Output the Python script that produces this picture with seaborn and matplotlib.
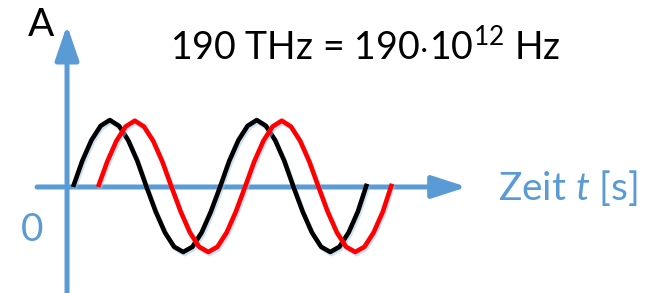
import numpy as np
import pandas as pd
import matplotlib
matplotlib.use('Agg')
import matplotlib.pyplot as plt
import matplotlib.patheffects as pe
import seaborn as sns

# Zeit in Einheiten der Periode T (T = 1/190 THz), Amplitude normiert
black_t = [0.0, 0.0625, 0.125, 0.1875, 0.25, 0.3125, 0.375, 0.4375, 0.5, 0.5625, 0.625,
           0.6875, 0.75, 0.8125, 0.875, 0.9375, 1.0, 1.0625, 1.125, 1.1875, 1.25, 1.3125,
           1.375, 1.4375, 1.5, 1.5625, 1.625, 1.6875, 1.75, 1.8125, 1.875, 1.9375, 2.0]
black_a = [0.0, 0.4, 0.72, 0.94, 1.03, 0.94, 0.72, 0.4, 0.0, -0.38, -0.7, -0.92, -1.0,
           -0.92, -0.7, -0.38, 0.0, 0.4, 0.72, 0.94, 1.03, 0.94, 0.72, 0.4, 0.0, -0.38,
           -0.7, -0.92, -1.0, -0.92, -0.7, -0.38, 0.05]

red_t = [0.17, 0.2325, 0.295, 0.3575, 0.42, 0.4825, 0.545, 0.6075, 0.67, 0.7325, 0.795,
         0.8575, 0.92, 0.9825, 1.045, 1.1075, 1.17, 1.2325, 1.295, 1.3575, 1.42, 1.4825,
         1.545, 1.6075, 1.67, 1.7325, 1.795, 1.8575, 1.92, 1.9825, 2.045, 2.1075, 2.17]
red_a = [0.0, 0.39, 0.71, 0.93, 1.02, 0.93, 0.71, 0.39, 0.0, -0.38, -0.7, -0.92, -1.0,
         -0.92, -0.7, -0.38, 0.0, 0.39, 0.71, 0.93, 1.02, 0.93, 0.71, 0.39, 0.0, -0.38,
         -0.7, -0.92, -1.0, -0.92, -0.7, -0.38, 0.05]

title_txt = '190 THz = 190$\\cdot$10$^{12}$ Hz'
x_label = 'Zeit $\\it{t}$ [s]'
y_label = 'A'
zero_label = '0'

blue = '#5B9BD5'

sns.set_style('white')
plt.rcParams['font.family'] = ['Lato', 'DejaVu Sans']
plt.rcParams['mathtext.fontset'] = 'custom'
plt.rcParams['mathtext.rm'] = 'Lato'
plt.rcParams['mathtext.it'] = 'Lato:italic'

fig = plt.figure(figsize=(6.52, 2.93), dpi=100)
ax = fig.add_axes([0, 0, 1, 1])
ax.set_xlim(-0.497, 3.939)
ax.set_ylim(-1.631, 2.877)
ax.axis('off')

# Achsen als Pfeile
ax.annotate('', xy=(2.68, 0), xytext=(-0.245, 0),
            arrowprops=dict(arrowstyle='-|>,head_length=1.05,head_width=0.34',
                            mutation_scale=20, lw=3.6, color=blue,
                            shrinkA=0, shrinkB=0))
ax.annotate('', xy=(-0.041, 2.49), xytext=(-0.041, -1.8),
            arrowprops=dict(arrowstyle='-|>,head_length=1.05,head_width=0.36',
                            mutation_scale=20, lw=3.6, color=blue,
                            shrinkA=0, shrinkB=0))

df = pd.concat([
    pd.DataFrame({'t': black_t, 'a': black_a, 'welle': 'ref'}),
    pd.DataFrame({'t': red_t, 'a': red_a, 'welle': 'shift'}),
])
sns.lineplot(data=df, x='t', y='a', hue='welle', palette={'ref': 'black', 'shift': '#FF0000'},
             sort=False, lw=3.3, legend=False, ax=ax, zorder=3,
             solid_capstyle='butt', solid_joinstyle='round')

# leichter blauer Schimmer unter den Wellen
for line in ax.lines:
    line.set_path_effects([pe.SimpleLineShadow(offset=(1, -1.5), shadow_color='#9DC3E6', alpha=0.5),
                           pe.Normal()])

fig.text(170 / 652, 1 - 60 / 293, title_txt, fontsize=27, color='black', ha='left', va='baseline')
fig.text(41 / 652, 1 - 36 / 293, y_label, fontsize=28, color='black', ha='center', va='baseline')
fig.text(32 / 652, 1 - 241 / 293, zero_label, fontsize=28, color=blue, ha='center', va='baseline')
fig.text(498 / 652, 1 - 200 / 293, x_label, fontsize=28, color=blue, ha='left', va='baseline')

fig.savefig('out.png', dpi=100)
